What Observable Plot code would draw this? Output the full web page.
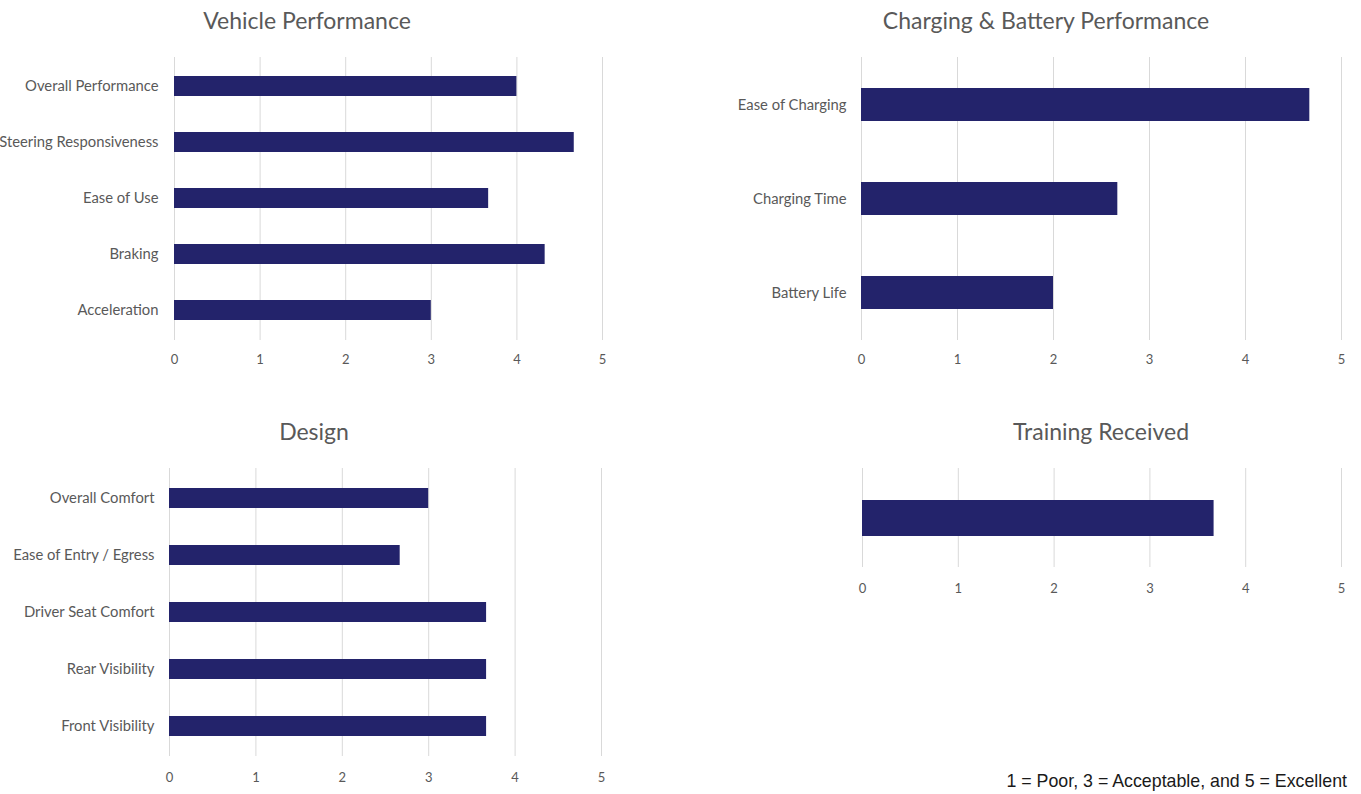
<!DOCTYPE html>
<html>
<head>
<meta charset="utf-8">
<script src="https://cdn.jsdelivr.net/npm/d3@7"></script>
<script src="https://cdn.jsdelivr.net/npm/@observablehq/plot@0.6"></script>
<style>
  html, body { margin: 0; padding: 0; background: #fff; }
  #page { position: relative; width: 1361px; height: 794px; overflow: hidden; }
  .panel { position: absolute; }
  .panel svg { overflow: visible; }
  .title {
    position: absolute; transform: translate(-50%, -50%);
    font-family: Lato, sans-serif; font-size: 23px; color: #595959; white-space: nowrap;
  }
  #note {
    position: absolute; right: 14px; top: 771px;
    font-family: "Liberation Sans", Arial, sans-serif;
    font-size: 17.8px; color: #1a1a1a; white-space: nowrap;
  }
</style>
</head>
<body>
<div id="page">
  <div class="title" style="left:307px; top:20px;">Vehicle Performance</div>
  <div class="title" style="left:1046px; top:20px;">Charging &amp; Battery Performance</div>
  <div class="title" style="left:314px; top:431px;">Design</div>
  <div class="title" style="left:1101px; top:431px;">Training Received</div>
  <div id="note">1 = Poor, 3 = Acceptable, and 5 = Excellent</div>
</div>
<script>
// Survey scores (1 = Poor, 3 = Acceptable, 5 = Excellent)
const vehicleCategories = ["Overall Performance", "Steering Responsiveness", "Ease of Use", "Braking", "Acceleration"];
const vehicleScores = [4.0, 4.67, 3.67, 4.33, 3.0];

const chargingCategories = ["Ease of Charging", "Charging Time", "Battery Life"];
const chargingScores = [4.67, 2.67, 2.0];

const designCategories = ["Overall Comfort", "Ease of Entry / Egress", "Driver Seat Comfort", "Rear Visibility", "Front Visibility"];
const designScores = [3.0, 2.67, 3.67, 3.67, 3.67];

const trainingCategories = ["Training Received"];
const trainingScores = [3.67];

const scoreTicks = [0, 1, 2, 3, 4, 5];

const BAR = "#23236b";
const GRID = "#d9d9d9";
const TEXT = "#595959";

function panel(categories, scores, o) {
  const data = categories.map((c, i) => ({category: c, score: scores[i]}));
  const chart = Plot.plot({
    width: o.width,
    height: o.height,
    marginLeft: o.marginLeft,
    marginRight: o.marginRight,
    marginTop: o.marginTop,
    marginBottom: o.marginBottom,
    style: {fontFamily: "Lato, sans-serif", fontSize: "13px", color: TEXT, background: "transparent", overflow: "visible"},
    x: {domain: [0, 5], label: null, axis: null},
    y: {domain: categories, paddingInner: o.padding, paddingOuter: o.padding / 2, label: null, axis: null},
    marks: [
      Plot.gridX(scoreTicks, {stroke: GRID, strokeOpacity: 1, strokeWidth: 1}),
      Plot.barX(data, {x: "score", y: "category", fill: BAR}),
      Plot.axisX(scoreTicks, {tickSize: 0, tickPadding: o.xPad, fontSize: 13, label: null}),
      o.showY ? Plot.axisY({tickSize: 0, tickPadding: o.yPad, fontSize: 14.8, label: null}) : null
    ]
  });
  const div = document.createElement("div");
  div.className = "panel";
  div.style.left = o.left + "px";
  div.style.top = o.top + "px";
  div.appendChild(chart);
  document.getElementById("page").appendChild(div);
}

panel(vehicleCategories, vehicleScores, {
  left: 0, top: 40, width: 620, height: 340,
  marginLeft: 174, marginRight: 18, marginTop: 17, marginBottom: 40,
  padding: 0.64, xPad: 14, yPad: 16, showY: true
});

panel(chargingCategories, chargingScores, {
  left: 700, top: 40, width: 661, height: 340,
  marginLeft: 161, marginRight: 20, marginTop: 17, marginBottom: 40,
  padding: 0.65, xPad: 14, yPad: 15, showY: true
});

panel(designCategories, designScores, {
  left: 0, top: 450, width: 620, height: 346,
  marginLeft: 169, marginRight: 19, marginTop: 18, marginBottom: 40,
  padding: 0.65, xPad: 16, yPad: 15, showY: true
});

panel(trainingCategories, trainingScores, {
  left: 700, top: 450, width: 661, height: 157,
  marginLeft: 162, marginRight: 20, marginTop: 18, marginBottom: 40,
  padding: 0.64, xPad: 16, yPad: 15, showY: false
});
</script>
</body>
</html>
